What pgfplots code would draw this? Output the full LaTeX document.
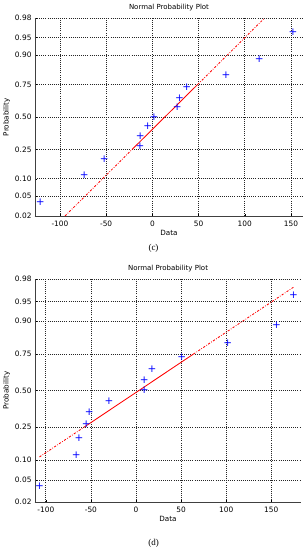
\documentclass[border=0pt]{standalone}
\usepackage{pgfplots}
\pgfplotsset{compat=1.18}
\usepackage{fontspec}
\setmainfont{DejaVu Sans}
\newfontfamily\capfont{Liberation Serif}

\pgfplotstableread{
x z
-121.2 -1.7688
-73.6 -1.1983
-52.0 -0.8694
-13.4 -0.6151
-13.0 -0.3960
-5.1 -0.1940
1.8 0.0
27.0 0.1940
29.5 0.3960
37.1 0.6151
79.7 0.8694
115.8 1.1983
152.2 1.7688
}\dataC

\pgfplotstableread{
x z
-107.0 -1.7688
-66.3 -1.1983
-63.3 -0.8694
-55.2 -0.6151
-51.9 -0.3960
-30.0 -0.1940
9.3 0.0
9.3 0.1940
17.8 0.3960
50.7 0.6151
101.9 0.8694
155.9 1.1983
174.8 1.7688
}\dataD

\pgfplotsset{
  npp/.style={
    scale only axis,
    axis x line*=bottom,
    axis y line*=left,
    axis line style={-, black!75, line width=0.7pt},
    ymin=-2.0537, ymax=2.0537,
    ytick={-2.0537,-1.6449,-1.2816,-0.6745,0,0.6745,1.2816,1.6449,2.0537},
    yticklabels={0.02,0.05,0.10,0.25,0.50,0.75,0.90,0.95,0.98},
    xtick={-100,-50,0,50,100,150},
    grid=major,
    major grid style={black!85, line width=0.65pt, dash pattern=on 0.7pt off 1.4pt},
    tick style={black, line width=0.5pt},
    tick align=inside,
    major tick length=2pt,
    /pgf/number format/assume math mode=true,
    ticklabel style={font=\fontsize{7.4}{8}\selectfont},
    xticklabel style={yshift=-1pt},
    label style={font=\fontsize{7.2}{8}\selectfont},
    title style={font=\fontsize{7}{8}\selectfont, yshift=-2pt},
    title={Normal Probability Plot},
    xlabel={Data},
    ylabel={Probability},
    xlabel style={yshift=3pt},
    ylabel style={yshift=-2pt},
    clip=true,
  },
  pts/.style={only marks, mark=text,
    text mark={\textcolor{blue}{\fontsize{10.5}{10.5}\selectfont +}}},
  fitsolid/.style={draw=red, line width=0.85pt, no marks},
  fitdash/.style={draw=red, line width=0.85pt, no marks, dash pattern=on 2.2pt off 1.5pt on 0.7pt off 1.5pt},
}

\begin{document}
\begin{tikzpicture}[x=1pt,y=1pt]
\useasboundingbox (0,0) rectangle (307,550);

\begin{axis}[npp, at={(35pt,334pt)}, anchor=south west,
  width=268pt, height=198pt, xmin=-127, xmax=163]
  \addplot[fitdash] coordinates {(-94.5,-2.0537) (-22.0,-0.6745)};
  \addplot[fitdash] coordinates {(49.0,0.6745) (121.5,2.0537)};
  \addplot[fitsolid] coordinates {(-22.0,-0.6745) (49.0,0.6745)};
  \addplot[pts] table[x=x,y=z] {\dataC};
\end{axis}
\node[font=\capfont\fontsize{9}{10}\selectfont] at (153.5,302) {(c)};

\begin{axis}[npp, at={(35pt,48pt)}, anchor=south west,
  width=266pt, height=222.7pt, xmin=-112, xmax=183]
  \addplot[fitdash] coordinates {(-107.0,-1.2222) (-57.7,-0.6745)};
  \addplot[fitdash] coordinates {(63.7,0.6745) (174.8,1.9089)};
  \addplot[fitsolid] coordinates {(-57.7,-0.6745) (63.7,0.6745)};
  \addplot[pts] table[x=x,y=z] {\dataD};
\end{axis}
\node[font=\capfont\fontsize{9}{10}\selectfont] at (153.5,7) {(d)};
\end{tikzpicture}
\end{document}
